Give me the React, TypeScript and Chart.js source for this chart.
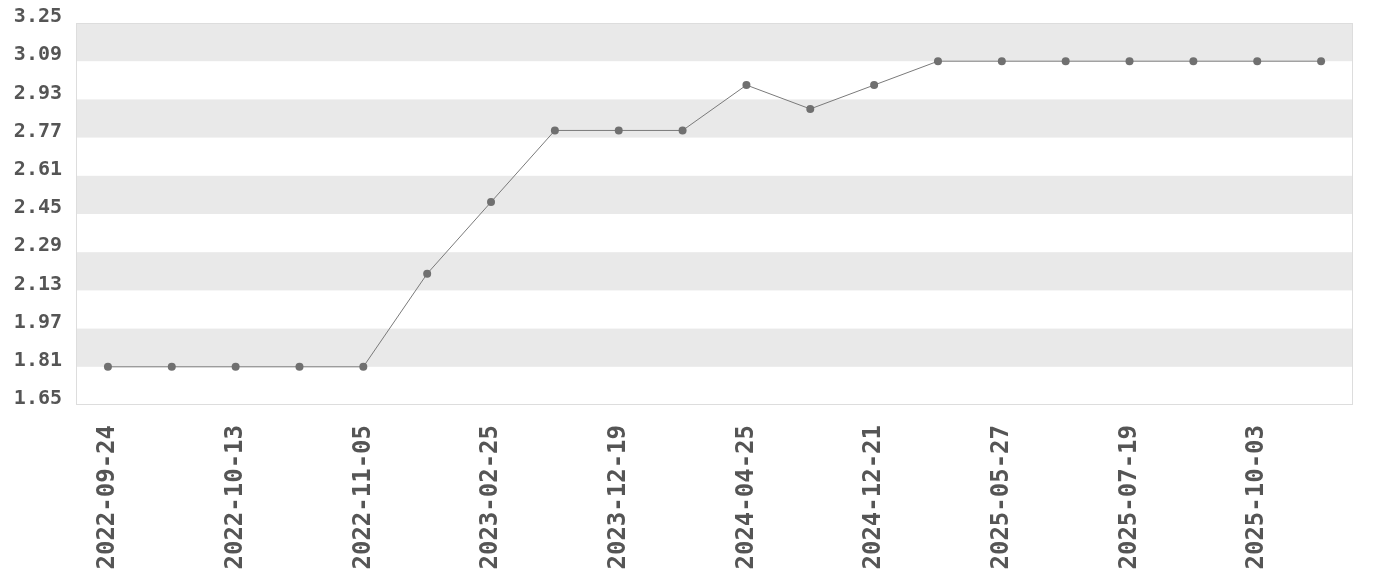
import React, { useEffect, useRef } from "react";
import { Chart, registerables } from "chart.js";

Chart.register(...registerables);

const categories = [
  "2022-09-24", "2022-10-01", "2022-10-13", "2022-10-22", "2022-11-05",
  "2022-12-10", "2023-02-25", "2023-07-14", "2023-12-19", "2024-02-16",
  "2024-04-25", "2024-08-09", "2024-12-21", "2025-03-08", "2025-05-27",
  "2025-06-21", "2025-07-19", "2025-08-23", "2025-10-03", "2025-11-08",
];
const values = [
  1.81, 1.81, 1.81, 1.81, 1.81,
  2.2, 2.5, 2.8, 2.8, 2.8,
  2.99, 2.89, 2.99, 3.09, 3.09,
  3.09, 3.09, 3.09, 3.09, 3.09,
];
const yMin = 1.65;
const yMax = 3.25;
const yStep = 0.16;

const bandsPlugin = {
  id: "bands",
  beforeDraw(chart: any) {
    const { ctx, chartArea, scales } = chart;
    const y = scales.y;
    ctx.save();
    const ticks = y.ticks.map((t: any) => t.value);
    for (let i = 0; i < ticks.length - 1; i++) {
      if (i % 2 === 1) {
        const top = y.getPixelForValue(ticks[i + 1]);
        const bottom = y.getPixelForValue(ticks[i]);
        ctx.fillStyle = "#e9e9e9";
        ctx.fillRect(chartArea.left, top, chartArea.right - chartArea.left, bottom - top);
      }
    }
    ctx.strokeStyle = "#dddddd";
    ctx.lineWidth = 1;
    ctx.strokeRect(
      chartArea.left + 0.5,
      chartArea.top + 0.5,
      chartArea.right - chartArea.left - 1,
      chartArea.bottom - chartArea.top - 1
    );
    ctx.restore();
  },
};

export default function App() {
  const ref = useRef<HTMLCanvasElement | null>(null);
  useEffect(() => {
    if (!ref.current) return;
    const chart = new Chart(ref.current, {
      type: "line",
      data: {
        labels: categories,
        datasets: [
          {
            data: values,
            borderColor: "#7a7a7a",
            borderWidth: 1,
            pointBackgroundColor: "#707070",
            pointBorderColor: "#707070",
            pointRadius: 4,
            pointBorderWidth: 0,
            tension: 0,
          },
        ],
      },
      options: {
        animation: false,
        responsive: false,
        layout: { padding: { left: 0, right: 19, top: 0, bottom: 0 } },
        plugins: { legend: { display: false }, tooltip: { enabled: false } },
        scales: {
          x: {
            offset: true,
            grid: { display: false },
            border: { display: false },
            afterFit: (s: any) => { s.height = 167; },
            ticks: {
              autoSkip: false,
              minRotation: 90,
              maxRotation: 90,
              padding: 12,
              color: "#555555",
              font: { family: "'DejaVu Sans Mono', monospace", size: 24, weight: "bold" },
              callback: (_v: any, i: number) => (i % 2 === 0 ? categories[i] : ""),
            },
          },
          y: {
            min: yMin,
            max: yMax,
            grid: { display: false },
            border: { display: false },
            afterFit: (s: any) => { s.width = 68; s.paddingTop = 15; s.paddingBottom = 0; },
            ticks: {
              stepSize: yStep,
              padding: 6,
              labelOffset: -6,
              color: "#555555",
              font: { family: "'DejaVu Sans Mono', monospace", size: 20, weight: "bold" },
              callback: (v: any) => Number(v).toFixed(2),
            },
          },
        },
      },
      plugins: [bandsPlugin],
    });
    return () => chart.destroy();
  }, []);
  return <canvas ref={ref} width={1364} height={564} style={{ display: "block" }} />;
}
